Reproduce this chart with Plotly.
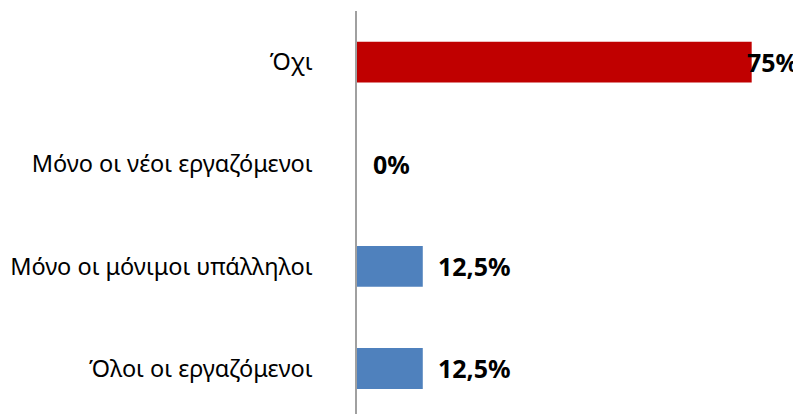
import plotly.graph_objects as go

# categories bottom to top
categories = ["Όλοι οι εργαζόμενοι", "Μόνο οι μόνιμοι υπάλληλοι",
              "Μόνο οι νέοι εργαζόμενοι", "Όχι"]
values = [12.5, 12.5, 0, 75]
colors = ["#4F81BD", "#4F81BD", "#4F81BD", "#C00000"]
label_shift = [14, 14, 15, -6]


def fmt(v):
    s = ("%g" % v).replace(".", ",")
    return s + "%"


fig = go.Figure()
fig.add_trace(go.Bar(
    y=categories, x=values, orientation="h",
    marker=dict(color=colors, line=dict(width=0)),
    hoverinfo="skip",
))

for cat, v, sh in zip(categories, values, label_shift):
    fig.add_annotation(
        x=v, y=cat, text="<b>" + fmt(v) + "</b>",
        showarrow=False, xanchor="left", yanchor="middle",
        xshift=sh, borderpad=0,
        font=dict(size=25, color="#000000", family="Noto Sans"),
    )

# page body adds ~8px offset, so size/margins are reduced by that
fig.update_layout(
    width=793, height=406,
    margin=dict(l=349, r=23, t=3, b=0),
    paper_bgcolor="white", plot_bgcolor="white",
    bargap=0.6, showlegend=False,
    font=dict(family="Noto Sans", size=23.5, color="#000000"),
)
fig.update_xaxes(range=[0, 80], visible=False)
fig.update_yaxes(
    range=[-0.446, 3.5], showline=True, linecolor="#A0A0A0", linewidth=1.5,
    ticks="", ticklabelstandoff=38, showgrid=False, zeroline=False,
)

fig.write_html("out.html")
